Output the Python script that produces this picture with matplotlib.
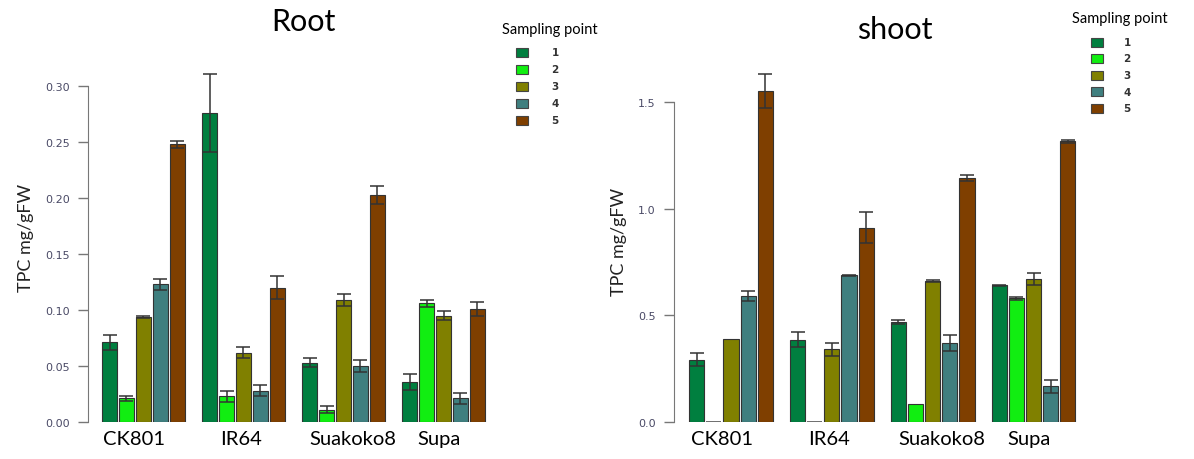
import numpy as np
import matplotlib.pyplot as plt
from matplotlib.patches import Rectangle

varieties = ["CK801", "IR64", "Suakoko8", "Supa"]
points = ["1", "2", "3", "4", "5"]
colors = ["#007f3f", "#11ee11", "#808000", "#3f7f7f", "#7f3f00"]

# rows = variety, cols = sampling point
root_mean = np.array([[0.071, 0.021, 0.094, 0.123, 0.248],
                      [0.276, 0.023, 0.062, 0.028, 0.120],
                      [0.053, 0.011, 0.109, 0.050, 0.203],
                      [0.036, 0.106, 0.095, 0.021, 0.101]])
root_se = np.array([[0.007, 0.002, 0.001, 0.005, 0.003],
                    [0.035, 0.005, 0.005, 0.005, 0.010],
                    [0.004, 0.003, 0.005, 0.005, 0.008],
                    [0.007, 0.003, 0.004, 0.005, 0.006]])

shoot_mean = np.array([[0.292, 0.0, 0.390, 0.590, 1.550],
                       [0.386, 0.0, 0.340, 0.687, 0.911],
                       [0.469, 0.083, 0.659, 0.370, 1.145],
                       [0.640, 0.580, 0.672, 0.167, 1.316]])
shoot_se = np.array([[0.030, 0.0, 0.0, 0.022, 0.080],
                     [0.035, 0.0, 0.030, 0.003, 0.073],
                     [0.010, 0.0, 0.005, 0.036, 0.013],
                     [0.004, 0.008, 0.028, 0.030, 0.008]])

label_shift = [-0.6, -0.15, 0.6, -0.3]

W, H = 1194, 460
fig = plt.figure(figsize=(W / 100, H / 100), dpi=100)

def px_axes(left, bottom_y, width, height):
    return fig.add_axes([left / W, (H - bottom_y) / H, width / W, height / H])

def draw_panel(ax, mean, se, ytop, yticks, fmt, xlim):
    bw = 1.0
    step = 1.133
    gstep = 6.667
    for g in range(len(varieties)):
        for i in range(len(points)):
            x = g * gstep + i * step + bw / 2
            if mean[g, i] == 0:
                # empty bar shows as a flat line on the baseline
                ax.hlines(0, x - bw / 2, x + bw / 2, color="#555555", lw=1.2, zorder=2)
                continue
            ax.bar(x, mean[g, i], width=bw, color=colors[i],
                   edgecolor="#333333", linewidth=0.8, zorder=2)
            if se[g, i] > 0:
                ax.errorbar(x, mean[g, i], yerr=se[g, i], fmt="none",
                            ecolor="#333333", elinewidth=1.1, capsize=5.2,
                            capthick=1.1, zorder=3)
    centers = [g * gstep + 2 * step + bw / 2 + label_shift[g] for g in range(len(varieties))]
    ax.set_xticks(centers)
    ax.set_xticklabels(varieties, fontsize=14.5, family="Lato")
    ax.tick_params(axis="x", length=0, pad=6)
    ax.set_xlim(*xlim)
    ax.set_ylim(0, ytop)
    ax.set_yticks(yticks)
    ax.set_yticklabels([fmt % v for v in yticks], fontsize=8, color="#4a4a66",
                       family="DejaVu Sans")
    ax.tick_params(axis="y", length=7, width=1, color="#777777", pad=6)
    for s in ["top", "right", "bottom"]:
        ax.spines[s].set_visible(False)
    ax.spines["left"].set_bounds(yticks[0], yticks[-1])
    ax.spines["left"].set_color("#777777")
    ax.set_facecolor("none")

def draw_legend(xc, ytitle, xsq, xnum, rows):
    fig.text(xc / W, 1 - ytitle / H, "Sampling point", ha="center", va="center",
             fontsize=10.5, family="Lato")
    for i, y in enumerate(rows):
        fig.add_artist(Rectangle(((xsq - 6) / W, 1 - (y + 4.5) / H), 12 / W, 9 / H,
                                 transform=fig.transFigure, facecolor=colors[i],
                                 edgecolor="#444444", linewidth=0.8))
        fig.text(xnum / W, 1 - y / H, points[i], ha="center", va="center",
                 fontsize=7.5, fontweight="bold", color="#333333")

# root panel
ax1 = px_axes(88, 423, 412, 0.33 * 1120)
draw_panel(ax1, root_mean, root_se, 0.33, np.arange(0, 0.301, 0.05), "%.2f",
           (-14 / 15, 398 / 15))
ax1.set_ylabel("TPC mg/gFW", fontsize=13, family="Lato", color="#222222", labelpad=8)
fig.text(303 / W, 1 - 22 / H, "Root", ha="center", va="center", fontsize=22, family="Lato")
draw_legend(550, 30, 522, 555, [53, 70, 87, 104, 121])

# shoot panel
ax2 = px_axes(674, 423, 416, 1.7 * 213.33)
draw_panel(ax2, shoot_mean, shoot_se, 1.7, np.array([0.0, 0.5, 1.0, 1.5]), "%.1f",
           (-1.0, 26.5))
ax2.set_ylabel("TPC mg/gFW", fontsize=13, family="Lato", color="#222222", labelpad=8)
fig.text(895 / W, 1 - 30 / H, "shoot", ha="center", va="center", fontsize=22, family="Lato")
draw_legend(1120, 19, 1097, 1127, [43, 59.5, 76, 92.5, 109])

fig.savefig("out.png", dpi=100)
